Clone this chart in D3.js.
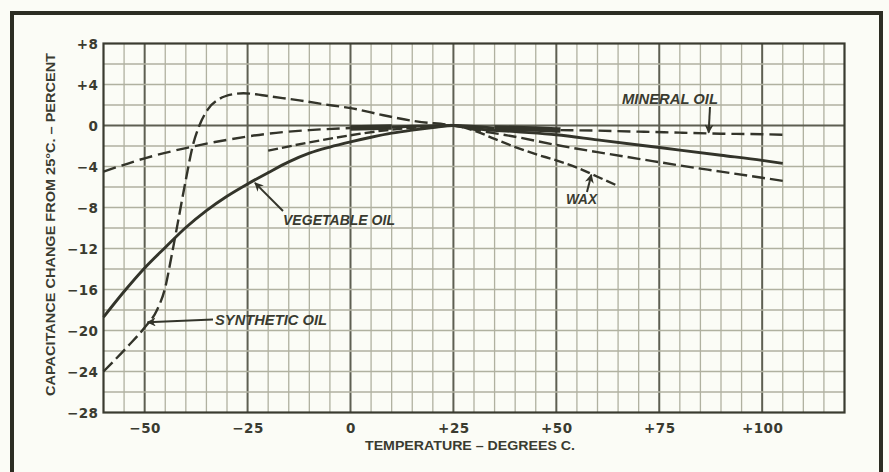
<!DOCTYPE html>
<html>
<head>
<meta charset="utf-8">
<script src="https://cdn.jsdelivr.net/npm/d3@7"></script>
<style>
  html, body { margin: 0; padding: 0; background: #fbfcf6; }
  svg { display: block; }
  text { font-family: "Liberation Sans", Arial, sans-serif; font-weight: bold; fill: #3a3b30; }
  .tick text { font-family: "DejaVu Sans", sans-serif; }
</style>
</head>
<body>
<svg id="chart" width="889" height="472"></svg>
<script>
// Temperature ticks (°C) and capacitance-change ticks (%)
const xTicks = [-50, -25, 0, 25, 50, 75, 100];
const xTickLabels = ["−50", "−25", "0", "+25", "+50", "+75", "+100"];
const yTicks = [8, 4, 0, -4, -8, -12, -16, -20, -24, -28];
const yTickLabels = ["+8", "+4", "0", "−4", "−8", "−12", "−16", "−20", "−24", "−28"];

// Vegetable oil (solid)
const vegTemp = [-60, -55, -50, -45, -40, -35, -30, -25, -20, -15, -10, -5, 0, 5, 10, 15, 20, 25, 30, 40, 50, 60, 70, 80, 90, 100, 105];
const vegChange = [-18.7, -16.2, -13.9, -11.9, -9.95, -8.3, -6.9, -5.7, -4.6, -3.55, -2.7, -2.1, -1.6, -1.15, -0.75, -0.45, -0.2, 0, -0.3, -0.6, -0.9, -1.4, -1.9, -2.4, -2.9, -3.4, -3.7];

// Synthetic oil (long dashes)
const synTemp = [-60, -54, -50, -47, -45, -43.5, -42, -40, -38.3, -36.7, -34.6, -31.8, -28.6, -26, -23, -20.5, -12.4, -4.4, 0, 8, 16, 25, 30, 40, 50, 60, 70, 80, 90, 100, 105];
const synChange = [-24, -21.5, -19.7, -18.0, -15.8, -12.8, -9.6, -5.3, -1.95, 0, 1.6, 2.6, 3.05, 3.15, 3.05, 2.9, 2.45, 1.95, 1.7, 1.0, 0.4, 0, -0.4, -1.1, -1.9, -2.6, -3.25, -3.9, -4.5, -5.1, -5.4];

// Mineral oil (long dashes, heavy where the curves coincide)
const minTemp = [-60, -50, -40, -30, -20, -10, 0, 10, 25, 35, 45, 51, 60, 70, 80, 90, 100, 105];
const minChange = [-4.5, -3.2, -2.2, -1.4, -0.8, -0.45, -0.25, -0.15, 0, -0.25, -0.35, -0.45, -0.5, -0.6, -0.7, -0.8, -0.85, -0.9];
const minHeavy = [[0, 10], [35, 51]];
const minSolid = [[10, 35]];

// Wax (short dashes)
const waxTemp = [-20, -10, 0, 10, 20, 25, 30, 35, 40, 45, 50, 55, 60, 65];
const waxChange = [-2.45, -1.65, -0.95, -0.4, -0.1, 0, -0.5, -1.3, -2.1, -2.8, -3.4, -4.1, -5.0, -5.9];

const svg = d3.select("#chart");
const ink = "#33342a";

// outer frame
svg.append("rect")
  .attr("x", 12).attr("y", 13).attr("width", 869).attr("height", 520)
  .attr("fill", "none").attr("stroke", "#2c2d23").attr("stroke-width", 4);

const x = d3.scaleLinear().domain([-60, 120]).range([103.5, 844.5]);
const y = d3.scaleLinear().domain([8, -28]).range([43.5, 412.5]);

// grid: every 5 °C and every 2 %
const g = svg.append("g");
g.selectAll("line.vx").data(d3.range(-55, 120, 5)).join("line")
  .attr("x1", d => x(d)).attr("x2", d => x(d))
  .attr("y1", y(8)).attr("y2", y(-28))
  .attr("stroke", d => d % 25 === 0 ? "#5e5f52" : "#b0b1a0")
  .attr("stroke-width", d => d % 25 === 0 ? 2 : 1.3);
g.selectAll("line.hy").data(d3.range(-26, 8, 2)).join("line")
  .attr("x1", x(-60)).attr("x2", x(120))
  .attr("y1", d => y(d)).attr("y2", d => y(d))
  .attr("stroke", d => d === 0 ? "#5e5f52" : "#b0b1a0")
  .attr("stroke-width", d => d === 0 ? 2 : 1.3);

// plot border
svg.append("rect")
  .attr("x", x(-60)).attr("y", y(8))
  .attr("width", x(120) - x(-60)).attr("height", y(-28) - y(8))
  .attr("fill", "none").attr("stroke", "#3a3b30").attr("stroke-width", 2.2);

// axes (labels only; grid drawn above)
const xAxis = d3.axisBottom(x).tickValues(xTicks).tickSize(0).tickPadding(0)
  .tickFormat((d, i) => xTickLabels[i]);
const gx = svg.append("g").attr("transform", `translate(0,${y(-28)})`).call(xAxis);
gx.select(".domain").remove();
gx.selectAll("text").attr("dy", null).attr("y", 20)
  .style("font-size", "13.5px").style("letter-spacing", "0.5px")
  .attr("fill", "#3a3b30");

const yAxis = d3.axisLeft(y).tickValues(yTicks).tickSize(0).tickPadding(0)
  .tickFormat((d, i) => yTickLabels[i]);
const gy = svg.append("g").attr("transform", `translate(${x(-60) - 5},0)`).call(yAxis);
gy.select(".domain").remove();
gy.selectAll("text").attr("dy", "0.36em")
  .style("font-size", "13.5px").style("letter-spacing", "0.5px")
  .attr("fill", "#3a3b30");

// axis titles
svg.append("text")
  .attr("transform", "translate(55,224.5) rotate(-90)")
  .attr("text-anchor", "middle")
  .attr("textLength", 343).attr("lengthAdjust", "spacingAndGlyphs")
  .style("font-size", "13.5px")
  .text("CAPACITANCE CHANGE FROM 25°C. – PERCENT");
svg.append("text")
  .attr("x", 470).attr("y", 450)
  .attr("text-anchor", "middle")
  .attr("textLength", 210).attr("lengthAdjust", "spacingAndGlyphs")
  .style("font-size", "13.5px")
  .text("TEMPERATURE – DEGREES C.");

// curves
const line = d3.line().x(d => x(d[0])).y(d => y(d[1])).curve(d3.curveMonotoneX);
const pairs = (ts, vs) => ts.map((t, i) => [t, vs[i]]);
const within = (pts, lo, hi) => pts.filter(p => p[0] >= lo && p[0] <= hi);

const veg = pairs(vegTemp, vegChange);
const syn = pairs(synTemp, synChange);
const mineral = pairs(minTemp, minChange);
const wax = pairs(waxTemp, waxChange);

const curves = svg.append("g").attr("fill", "none").attr("stroke", ink)
  .attr("stroke-linecap", "butt");

curves.append("path").attr("d", line(within(mineral, -60, 0)))
  .attr("stroke-width", 2.4).attr("stroke-dasharray", "13 6");
curves.append("path").attr("d", line(within(mineral, 51, 105)))
  .attr("stroke-width", 2.4).attr("stroke-dasharray", "13 6");
minSolid.forEach(([a, b]) => curves.append("path")
  .attr("d", line(within(mineral, a, b))).attr("stroke-width", 2.8));
minHeavy.forEach(([a, b]) => curves.append("path")
  .attr("d", line(within(mineral, a, b))).attr("stroke-width", 5.5));

curves.append("path").attr("d", line(wax))
  .attr("stroke-width", 2.4).attr("stroke-dasharray", "10 4");
curves.append("path").attr("d", line(syn))
  .attr("stroke-width", 2.4).attr("stroke-dasharray", "13 5");
curves.append("path").attr("d", line(veg))
  .attr("stroke-width", 2.9);

// arrowheads
const defs = svg.append("defs");
defs.append("marker").attr("id", "head")
  .attr("viewBox", "0 0 10 10").attr("refX", 9).attr("refY", 5)
  .attr("markerWidth", 4.5).attr("markerHeight", 4.5)
  .attr("orient", "auto")
  .append("path").attr("d", "M0,0 L10,5 L0,10 L3,5 Z").attr("fill", ink);

// curve labels: text, position, and arrow from tail to the curve
const labels = [
  { text: "VEGETABLE OIL", x: 283, y: 225, len: 112, from: [283, 211], at: [-23.2, -5.6] },
  { text: "SYNTHETIC OIL", x: 215, y: 325, len: 112, from: [213, 319.5], at: [-49.3, -19.2] },
  { text: "MINERAL OIL", x: 622, y: 104, len: 96, from: [710, 107], at: [87, -0.7] },
  { text: "WAX", x: 566, y: 204, len: 31, from: [587, 192], at: [58.5, -4.8] }
];
labels.forEach(l => {
  svg.append("text").attr("x", l.x).attr("y", l.y)
    .attr("textLength", l.len).attr("lengthAdjust", "spacingAndGlyphs")
    .style("font-size", "14px").style("font-style", "italic")
    .text(l.text);
  svg.append("line")
    .attr("x1", l.from[0]).attr("y1", l.from[1])
    .attr("x2", x(l.at[0])).attr("y2", y(l.at[1]))
    .attr("stroke", ink).attr("stroke-width", 2)
    .attr("marker-end", "url(#head)");
});
</script>
</body>
</html>
